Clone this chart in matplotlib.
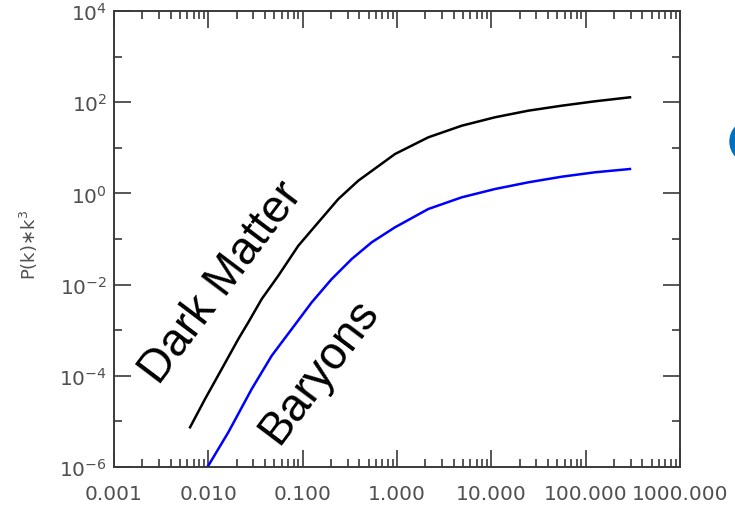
import matplotlib
matplotlib.use("Agg")
import matplotlib.pyplot as plt
import matplotlib.ticker as mticker
from matplotlib.patches import Ellipse
import numpy as np

# -----------------------------------
# Power spectra, P(k)*k^3
# -----------------------------------
k_dm = [0.0064, 0.00923, 0.01387, 0.0208, 0.02655, 0.03681, 0.05521, 0.08995,
        0.1466, 0.2388, 0.389, 0.9528, 2.148, 4.853, 10.94, 24.66, 55.7, 125.6, 295.0]
p_dm = [7.43e-6, 3.10e-5, 1.41e-4, 6.41e-4, 1.49e-3, 4.83e-3, 0.01567, 0.07129,
        0.2323, 0.7534, 1.901, 7.31, 16.98, 30.5, 46.7, 65.2, 83.8, 104.7, 128.0]

k_bar = [0.0097, 0.0100, 0.01629, 0.02884, 0.04699, 0.07656, 0.1248, 0.2032, 0.3311,
         0.5395, 0.9528, 2.148, 4.853, 10.94, 24.66, 55.7, 125.6, 295.0]
p_bar = [1.0e-6, 1.07e-6, 5.77e-6, 5.14e-5, 2.76e-4, 1.06e-3, 4.09e-3, 0.01327, 0.03639,
         0.0847, 0.1807, 0.455, 0.820, 1.248, 1.750, 2.323, 2.904, 3.428]

x_ticks = [0.001, 0.01, 0.1, 1.0, 10.0, 100.0, 1000.0]
x_labels = ["0.001", "0.010", "0.100", "1.000", "10.000", "100.000", "1000.000"]
y_major = [1e-6, 1e-4, 1e-2, 1e0, 1e2, 1e4]
y_minor = [1e-5, 1e-3, 1e-1, 1e1, 1e3]

W, H = 735, 510
fig = plt.figure(figsize=(W / 100, H / 100), dpi=100)
ax = fig.add_axes([114 / W, 1 - 468 / H, 566 / W, 456 / H])

ax.plot(k_dm, p_dm, color="black", lw=1.8)
ax.plot(k_bar, p_bar, color="#0000ff", lw=1.8)

ax.set_xscale("log")
ax.set_yscale("log")
ax.set_xlim(0.001, 1000)
ax.set_ylim(1e-6, 1e4)

tick_col = "#3a3a3a"
lab_col = "#505050"
ax.xaxis.set_major_locator(mticker.FixedLocator(x_ticks))
ax.xaxis.set_major_formatter(mticker.FixedFormatter(x_labels))
ax.xaxis.set_minor_locator(mticker.LogLocator(base=10, subs=np.arange(2, 10), numticks=20))
ax.xaxis.set_minor_formatter(mticker.NullFormatter())
ax.yaxis.set_major_locator(mticker.FixedLocator(y_major))
ax.yaxis.set_minor_locator(mticker.FixedLocator(y_minor))
ax.yaxis.set_minor_formatter(mticker.NullFormatter())
ax.yaxis.set_major_formatter(mticker.FuncFormatter(
    lambda v, pos: r"$\mathregular{10^{%d}}$" % round(np.log10(v))))

ax.tick_params(which="both", direction="in", top=True, right=True,
               color=tick_col, width=1.2)
ax.tick_params(which="major", length=12)
ax.tick_params(which="minor", length=6)
ax.tick_params(axis="x", which="major", pad=12, labelsize=14.5, labelcolor=lab_col)
ax.tick_params(axis="y", which="major", pad=5, labelsize=14.5, labelcolor=lab_col)
for s in ax.spines.values():
    s.set_color(tick_col)
    s.set_linewidth(1.4)

ax.set_ylabel(r"P(k)$\ast$k$^3$", fontsize=13, color=lab_col)
ax.yaxis.set_label_coords(-0.13, 0.49)

# curve labels
ax.text(0.01365, 0.0114, "Dark Matter", family="Liberation Sans", fontsize=33,
        rotation=53, rotation_mode="anchor", ha="center", va="center")
ax.text(0.149, 1.3e-4, "Baryons", family="Liberation Sans", fontsize=33,
        rotation=53, rotation_mode="anchor", ha="center", va="center")

# blue edge shape at the right border
fig.add_artist(Ellipse((748 / W, 1 - 142.5 / H), 36 / W, 40 / H,
                       transform=fig.transFigure, color="#0070c0", clip_on=False))

fig.savefig("out.png", dpi=100)
